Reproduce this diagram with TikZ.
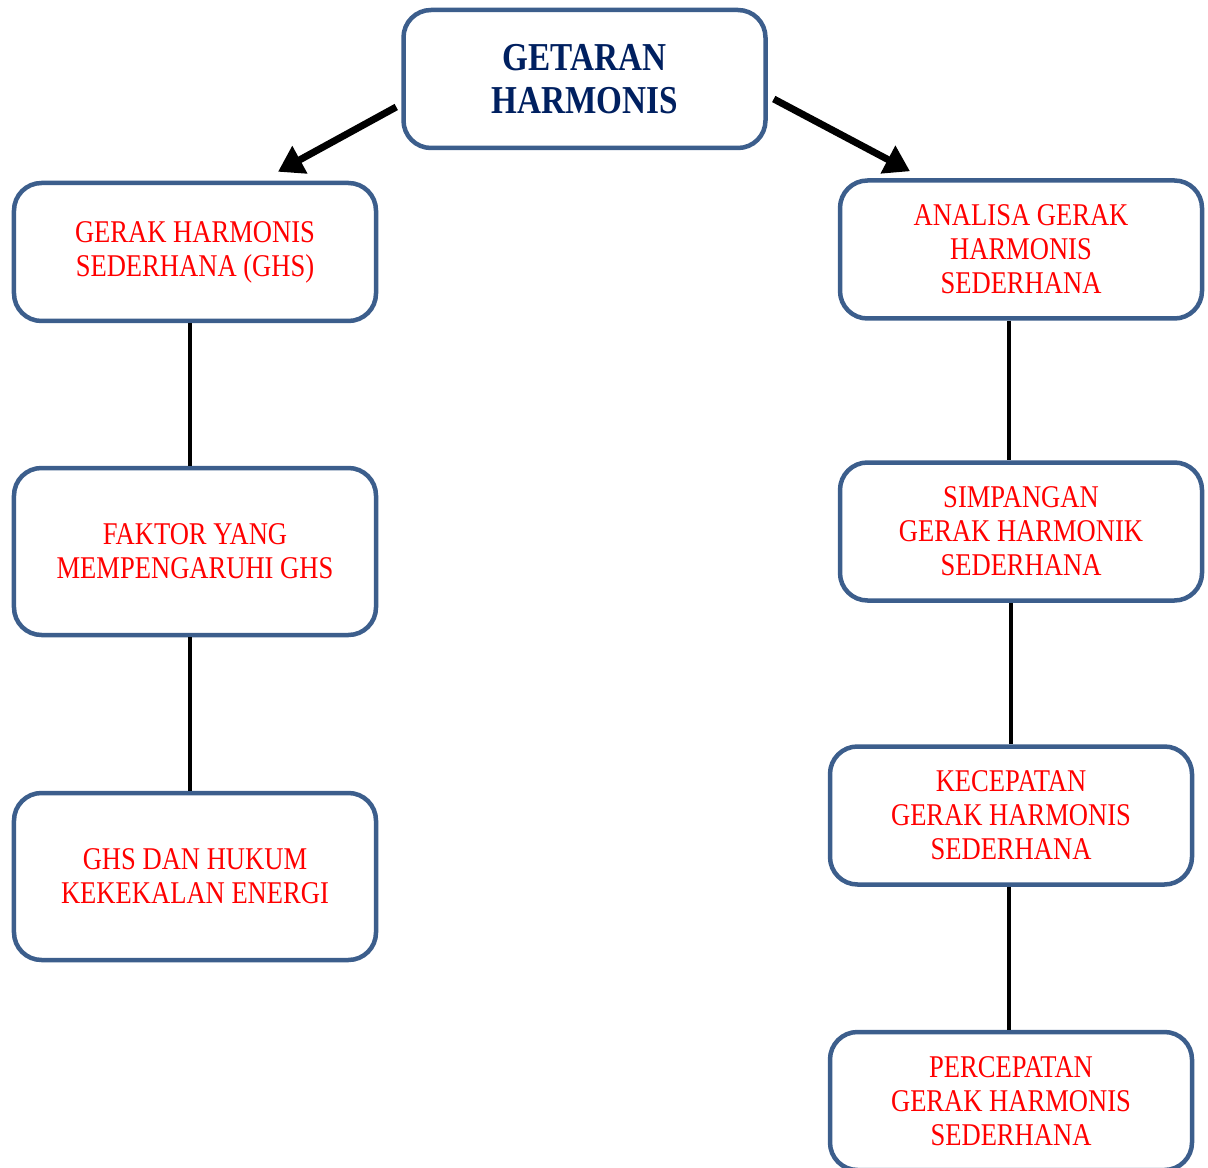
\documentclass[tikz,border=0pt]{standalone}
\usepackage{fontspec}
\setmainfont[FakeStretch=0.84]{Liberation Serif}
\usetikzlibrary{arrows.meta}
\definecolor{boxblue}{RGB}{60,94,140}
\definecolor{titleblue}{RGB}{0,32,96}
\definecolor{textred}{RGB}{255,0,0}
\begin{document}
\begin{tikzpicture}[
  box/.style={draw=boxblue, line width=0.09cm, rounded corners=0.55cm, fill=white,
    minimum width=7.24cm, minimum height=2.76cm, align=center, text=textred,
    font=\fontsize{18}{19.4}\selectfont, execute at begin node={\rule{0pt}{16.5pt}}},
  tallbox/.style={box, minimum height=3.34cm},
  link/.style={line width=0.09cm, black},
  bigarrow/.style={line width=0.14cm, black, -{Triangle[length=0.5cm,width=0.6cm]}}]
  \useasboundingbox (0,0) rectangle (24.16,-23.36);
  \node[box, text=titleblue, font=\fontsize{22.5}{24.5}\selectfont\bfseries] (top) at (11.69,-1.58) {GETARAN\\HARMONIS};
  % left branch
  \node[box] (gerak) at (3.90,-5.04) {GERAK HARMONIS\\SEDERHANA (GHS)};
  \node[tallbox] (faktor) at (3.90,-11.03) {FAKTOR YANG\\MEMPENGARUHI GHS};
  \node[tallbox] (hukum) at (3.90,-17.53) {GHS DAN HUKUM\\KEKEKALAN ENERGI};
  % right branch
  \node[box] (analisa) at (20.42,-4.99) {ANALISA GERAK\\HARMONIS\\SEDERHANA};
  \node[box] (simpangan) at (20.42,-10.63) {SIMPANGAN\\GERAK HARMONIK\\SEDERHANA};
  \node[box] (kecepatan) at (20.22,-16.31) {KECEPATAN\\GERAK HARMONIS\\SEDERHANA};
  \node[box] (percepatan) at (20.22,-22.02) {PERCEPATAN\\GERAK HARMONIS\\SEDERHANA};
  \draw[bigarrow] ([xshift=-0.1cm,yshift=-0.56cm]top.west) -- ([xshift=1.66cm,yshift=0.18cm]gerak.north);
  \draw[bigarrow] ([xshift=0.12cm,yshift=-0.4cm]top.east) -- ([xshift=-2.22cm,yshift=0.14cm]analisa.north);
  \draw[link] ([xshift=-0.1cm]gerak.south) -- ([xshift=-0.1cm]faktor.north);
  \draw[link] ([xshift=-0.1cm]faktor.south) -- ([xshift=-0.1cm]hukum.north);
  \draw[link] ([xshift=-0.24cm]analisa.south) -- ([xshift=-0.24cm]simpangan.north);
  \draw[link] (kecepatan.north |- simpangan.south) -- (kecepatan.north);
  \draw[link] ([xshift=-0.04cm]kecepatan.south) -- ([xshift=-0.04cm]percepatan.north);
\end{tikzpicture}
\end{document}
